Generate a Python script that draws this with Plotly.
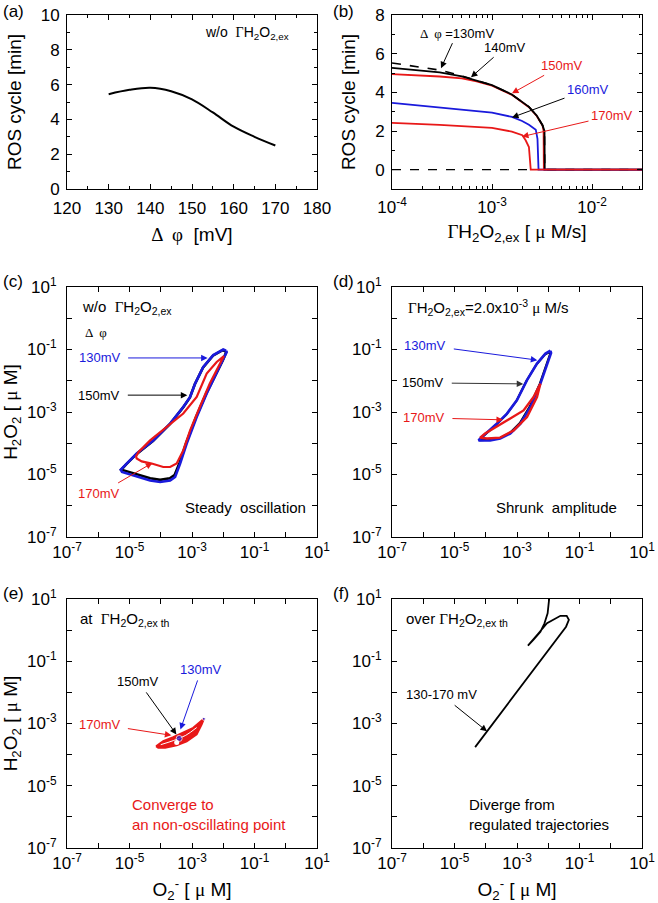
import plotly.graph_objects as go

W, H = 658, 903

# ---------------- data ----------------
# (a) ROS cycle vs membrane potential (no external H2O2)
dphi_mV = [130, 135, 140, 145, 150, 155, 160, 165, 170]
ros_cycle_min = [5.45, 5.70, 5.82, 5.62, 5.15, 4.40, 3.58, 3.00, 2.50]

# (b) ROS cycle vs external H2O2 flux, one series per potential
g130 = [1e-4, 2e-4, 3e-4, 5e-4, 7e-4, 1e-3, 1.58e-3, 2.34e-3, 2.8e-3, 3.2e-3, 3.35e-3, 3.37e-3, 3.2e-2]
r130 = [5.52, 5.30, 5.15, 4.85, 4.62, 4.37, 3.89, 3.25, 2.80, 2.30, 2.00, 0, 0]
g140 = [1e-4, 2e-4, 3e-4, 5e-4, 7e-4, 1e-3, 1.58e-3, 2.34e-3, 2.8e-3, 3.2e-3, 3.35e-3, 3.37e-3, 3.2e-2]
r140 = [5.27, 5.13, 5.03, 4.82, 4.60, 4.37, 3.89, 3.25, 2.80, 2.30, 2.00, 0, 0]
g150 = [1e-4, 2e-4, 3e-4, 5e-4, 7e-4, 1e-3, 1.58e-3, 2.34e-3, 2.8e-3, 3.2e-3, 3.28e-3, 3.30e-3, 3.2e-2]
r150 = [4.94, 4.88, 4.82, 4.72, 4.57, 4.35, 3.87, 3.23, 2.78, 2.28, 2.00, 0, 0]
g160 = [1e-4, 2e-4, 3e-4, 5e-4, 1e-3, 1.58e-3, 2e-3, 2.34e-3, 2.74e-3, 2.85e-3, 2.9e-3, 2.92e-3, 3.2e-2]
r160 = [3.45, 3.30, 3.21, 3.10, 2.95, 2.73, 2.52, 2.32, 2.07, 1.60, 0.80, 0, 0]
g170 = [1e-4, 3e-4, 1e-3, 1.58e-3, 2.01e-3, 2.17e-3, 2.34e-3, 2.40e-3, 2.44e-3, 3.2e-2]
r170 = [2.42, 2.32, 2.16, 1.97, 1.78, 1.52, 1.17, 0.60, 0, 0]
zero_ref_g = [1e-4, 2.44e-3]
zero_ref_r = [0, 0]

# (c) phase loops, log10(O2-) and log10(H2O2), w/o external H2O2
c130_lo2 = [-1.91, -2.00, -2.32, -2.64, -2.90, -3.06, -3.28, -3.70, -4.24, -4.77, -5.09, -5.28, -5.24,
            -4.87, -4.34, -4.02, -3.70, -3.54, -3.38, -3.17, -2.85, -2.53, -2.21, -2.00, -1.89, -1.91]
c130_lh2o2 = [-1.04, -1.00, -1.18, -1.56, -2.09, -2.52, -2.84, -3.37, -3.91, -4.33, -4.65, -4.85, -4.92,
              -5.03, -5.19, -5.24, -5.19, -5.08, -4.65, -4.01, -3.16, -2.41, -1.77, -1.34, -1.08, -1.04]
c150_lo2 = [-1.93, -2.02, -2.33, -2.65, -2.91, -3.07, -3.29, -3.71, -4.25, -4.78, -5.10, -5.26, -5.21,
            -4.86, -4.34, -4.02, -3.71, -3.56, -3.40, -3.19, -2.87, -2.55, -2.23, -2.02, -1.91, -1.93]
c150_lh2o2 = [-1.06, -1.02, -1.20, -1.58, -2.11, -2.54, -2.86, -3.39, -3.93, -4.35, -4.67, -4.84, -4.86,
              -4.96, -5.12, -5.17, -5.12, -5.02, -4.63, -4.00, -3.16, -2.42, -1.79, -1.36, -1.10, -1.06]
c170_lo2 = [-1.98, -2.21, -2.53, -2.85, -3.28, -3.81, -4.34, -4.71, -4.79, -4.77, -4.61, -4.29, -3.92,
            -3.70, -3.49, -3.28, -3.06, -2.75, -2.43, -2.16, -1.98]
c170_lh2o2 = [-1.21, -1.40, -1.77, -2.52, -3.05, -3.48, -3.91, -4.28, -4.42, -4.49, -4.58, -4.65, -4.76,
              -4.76, -4.65, -4.23, -3.59, -2.84, -2.09, -1.56, -1.21]

# (d) phase loops with external H2O2 = 2.0e-3 uM/s
d130_lo2 = [-1.93, -2.09, -2.36, -2.68, -3.00, -3.32, -3.64, -3.96, -4.18, -4.23, -3.86, -3.54, -3.22,
            -2.89, -2.57, -2.25, -2.04, -1.91, -1.93]
d130_lh2o2 = [-1.04, -1.13, -1.45, -1.98, -2.62, -3.05, -3.37, -3.64, -3.85, -3.91, -3.91, -3.85, -3.69,
              -3.37, -2.84, -2.09, -1.45, -1.11, -1.04]
d150_lo2 = [-1.96, -2.11, -2.38, -2.70, -3.02, -3.34, -3.66, -3.98, -4.17, -4.20, -3.86, -3.54, -3.23,
            -2.91, -2.59, -2.27, -2.06, -1.94, -1.96]
d150_lh2o2 = [-1.08, -1.16, -1.48, -2.01, -2.65, -3.08, -3.40, -3.67, -3.86, -3.90, -3.89, -3.83, -3.67,
              -3.35, -2.82, -2.09, -1.47, -1.14, -1.08]
d170_lo2 = [-2.25, -2.47, -2.79, -3.22, -3.64, -4.02, -4.18, -3.96, -3.54, -3.11, -2.68, -2.36, -2.25]
d170_lh2o2 = [-2.09, -2.52, -2.95, -3.21, -3.48, -3.69, -3.82, -3.85, -3.82, -3.59, -3.16, -2.52, -2.09]

# (e) converging trajectories at threshold flux
e_lo2 = [-4.15, -4.08, -3.86, -3.49, -3.17, -2.85, -2.69, -2.62, -2.96, -3.28, -3.60, -3.92, -4.15]
e_lh2o2 = [-3.73, -3.78, -3.78, -3.70, -3.57, -3.35, -3.03, -2.85, -3.14, -3.30, -3.44, -3.57, -3.73]
e_inner_lo2 = [-4.00, -3.60, -3.20, -2.85]
e_inner_lh2o2 = [-3.68, -3.55, -3.38, -3.13]
e_fixed130_lo2, e_fixed130_lh2o2 = [-3.41, -2.62], [-3.48, -2.85]
e_fixed170_lo2, e_fixed170_lh2o2 = [-3.49], [-3.61]

# (f) diverging trajectory above threshold
f_lo2 = [-4.34, -1.43, -1.34, -1.41, -1.61, -1.77, -2.04, -2.31, -2.57, -2.65, -2.47, -2.25, -2.12,
         -2.02, -1.96, -1.94]
f_lh2o2 = [-3.76, 0.11, 0.33, 0.46, 0.46, 0.38, 0.22, -0.10, -0.42, -0.50, -0.31, -0.05, 0.22,
           0.54, 1.00, 1.30]

# tick labels
lin_x_ticks = [120, 130, 140, 150, 160, 170, 180]
lin_y_ticks = [0, 2, 4, 6, 8, 10]
b_y_ticks = [0, 2, 4, 6, 8]
b_x_ticks = [1e-4, 1e-3, 1e-2]
b_x_text = ["10<sup>-4</sup>", "10<sup>-3</sup>", "10<sup>-2</sup>"]
log_major = [1e-7, 1e-5, 1e-3, 1e-1, 1e1]
log_major_text = ["10<sup>-7</sup>", "10<sup>-5</sup>", "10<sup>-3</sup>", "10<sup>-1</sup>", "10<sup>1</sup>"]
log_minor = [1e-6, 1e-4, 1e-2, 1e0]

BLUE = "#1a1adc"
RED = "#e81818"
BLACK = "#000000"
FONT = "Liberation Sans, Arial, sans-serif"
G = '<span style="font-family:Liberation Serif">Γ</span>'
MU = '<span style="font-family:Liberation Serif">μ</span>'
PHI = '<span style="font-family:Liberation Serif">Δ  φ</span>'


def p10(v):
    return [10 ** t for t in v]


fig = go.Figure()


def line(x, y, ax, color, width=2, dash="solid", shape="linear", **kw):
    xa = "x" if ax == 1 else f"x{ax}"
    ya = "y" if ax == 1 else f"y{ax}"
    fig.add_trace(go.Scatter(x=x, y=y, xaxis=xa, yaxis=ya, mode="lines",
                             line=dict(color=color, width=width, dash=dash, shape=shape),
                             showlegend=False, hoverinfo="skip", **kw))


# (a)
line(dphi_mV, ros_cycle_min, 1, BLACK, 2, shape="spline")
# (b)
line(zero_ref_g, zero_ref_r, 2, BLACK, 1.2, dash="dash")
line(g150, r150, 2, RED, 1.8)
line(g140, r140, 2, BLACK, 1.8)
line(g130, r130, 2, BLACK, 1.6, dash="dash")
line(g160, r160, 2, BLUE, 1.8)
line(g170, r170, 2, RED, 1.8)
# (c)
line(p10(c150_lo2), p10(c150_lh2o2), 3, BLACK, 2.6)
line(p10(c130_lo2), p10(c130_lh2o2), 3, BLUE, 2.6)
line(p10(c170_lo2), p10(c170_lh2o2), 3, RED, 2.2)
# (d)
line(p10(d150_lo2), p10(d150_lh2o2), 4, BLACK, 2.0)
line(p10(d130_lo2), p10(d130_lh2o2), 4, BLUE, 2.6)
line(p10(d170_lo2), p10(d170_lh2o2), 4, RED, 2.4)
# (e)
fig.add_trace(go.Scatter(x=p10(e_lo2), y=p10(e_lh2o2), xaxis="x5", yaxis="y5", mode="lines",
                         fill="toself", fillcolor=RED, line=dict(color=RED, width=2),
                         showlegend=False, hoverinfo="skip"))
line(p10(e_inner_lo2), p10(e_inner_lh2o2), 5, "white", 1.0, shape="spline")
fig.add_trace(go.Scatter(x=p10(e_fixed130_lo2), y=p10(e_fixed130_lh2o2), xaxis="x5", yaxis="y5",
                         mode="markers", marker=dict(color=BLUE, size=[6, 3]),
                         showlegend=False, hoverinfo="skip"))
fig.add_trace(go.Scatter(x=p10(e_fixed170_lo2), y=p10(e_fixed170_lh2o2), xaxis="x5", yaxis="y5",
                         mode="markers", marker=dict(color="white", size=5),
                         showlegend=False, hoverinfo="skip"))
# (f)
line(p10(f_lo2), p10(f_lh2o2), 6, BLACK, 1.8)

# ---------------- layout ----------------
COLX = [(67 / W, 317 / W), (392 / W, 642 / W)]
ROWY = [(1 - 189 / H, 1 - 15 / H), (1 - 537 / H, 1 - 287 / H), (1 - 848 / H, 1 - 599 / H)]

base = dict(showline=True, linecolor=BLACK, linewidth=1, mirror="ticks", ticks="inside",
            ticklen=5, tickcolor=BLACK, tickwidth=1, showgrid=False, zeroline=False,
            automargin=False, tickfont=dict(size=17, color=BLACK, family=FONT))
tfont = dict(size=19, color=BLACK, family=FONT)

layout = dict(width=W, height=H, margin=dict(l=0, r=0, t=0, b=0), paper_bgcolor="white",
              plot_bgcolor="white", font=dict(family=FONT, color=BLACK), showlegend=False)

layout["xaxis"] = dict(base, domain=COLX[0], anchor="y", range=[120, 180], tickvals=lin_x_ticks,
                       ticklabelstandoff=4,
                       minor=dict(ticks="inside", ticklen=3, tickcolor=BLACK, dtick=5, tick0=120),
                       title=dict(text=f"{PHI}  [mV]", font=tfont, standoff=10))
layout["yaxis"] = dict(base, domain=ROWY[0], anchor="x", range=[0, 10], tickvals=lin_y_ticks,
                       minor=dict(ticks="inside", ticklen=3, tickcolor=BLACK, dtick=1, tick0=0),
                       ticklabelstandoff=3,
                       title=dict(text="ROS cycle [min]", font=tfont, standoff=14))
b_minor = [k * 10 ** e for e in (-4, -3, -2) for k in range(2, 10) if k * 10 ** e < 3.2e-2]
layout["xaxis2"] = dict(base, domain=COLX[1], anchor="y2", type="log", range=[-4, -1.5],
                        tickvals=b_x_ticks, ticktext=b_x_text, ticklabelstandoff=3,
                        minor=dict(ticks="inside", ticklen=3, tickcolor=BLACK, tickvals=b_minor),
                        title=dict(text=f"{G}H<sub>2</sub>O<sub>2,ex</sub> [ {MU} M/s]", font=tfont,
                                   standoff=8))
layout["yaxis2"] = dict(base, domain=ROWY[0], anchor="x2", range=[-1, 8], tickvals=b_y_ticks,
                        minor=dict(ticks="inside", ticklen=3, tickcolor=BLACK, dtick=1, tick0=-1),
                        ticklabelstandoff=3,
                        title=dict(text="ROS cycle [min]", font=tfont, standoff=14))

o2_title = f"O<sub>2</sub><sup>-</sup> [ {MU} M]"
h2o2_title = f"H<sub>2</sub>O<sub>2</sub> [ {MU} M]"
for i, (col, row) in zip(range(3, 7), [(0, 1), (1, 1), (0, 2), (1, 2)]):
    xa = dict(base, domain=COLX[col], anchor=f"y{i}", type="log", range=[-7, 1],
              tickvals=log_major, ticktext=log_major_text,
              minor=dict(ticks="inside", ticklen=5, tickcolor=BLACK, tickvals=log_minor))
    ya = dict(base, domain=ROWY[row], anchor=f"x{i}", type="log", range=[-7, 1],
              tickvals=log_major, ticktext=log_major_text, ticklabelstandoff=6,
              minor=dict(ticks="inside", ticklen=5, tickcolor=BLACK, tickvals=log_minor))
    if row == 2:
        xa["title"] = dict(text=o2_title, font=tfont, standoff=12)
    if col == 0:
        ya["title"] = dict(text=h2o2_title, font=tfont, standoff=10)
    layout[f"xaxis{i}"] = xa
    layout[f"yaxis{i}"] = ya

fig.update_layout(**layout)

ann = []


def note(ax, x, y, s, color=BLACK, size=13, xanchor="left", align="left"):
    ann.append(dict(xref="x" if ax == 1 else f"x{ax}", yref="y" if ax == 1 else f"y{ax}",
                    x=x, y=y, text=s, showarrow=False, xanchor=xanchor, yanchor="middle",
                    align=align, font=dict(size=size, color=color, family=FONT)))


def label_arrow(ax, x, y, dx, dy, s, color=BLACK, acolor=None, size=13, pad=5):
    """Label placed at offset (dx, dy) px from the arrow tip at data point (x, y)."""
    ann.append(dict(xref="x" if ax == 1 else f"x{ax}", yref="y" if ax == 1 else f"y{ax}",
                    x=x, y=y, ax=dx, ay=dy, text=s, showarrow=True, arrowhead=2,
                    arrowsize=1.3, arrowwidth=1, arrowcolor=acolor or color, standoff=0,
                    borderpad=pad, font=dict(size=size, color=color, family=FONT)))


# panel labels
for lab, px, py in [("(a)", 1, 12), ("(b)", 331, 12), ("(c)", 1, 281), ("(d)", 331, 281),
                    ("(e)", 1, 593), ("(f)", 331, 593)]:
    ann.append(dict(xref="paper", yref="paper", x=px / W, y=1 - py / H, text=lab, showarrow=False,
                    xanchor="left", yanchor="middle", font=dict(size=17, color=BLACK, family=FONT)))

# (a)
note(1, 152.6, 8.97, f"w/o  {G}H<sub>2</sub>O<sub>2,ex</sub>", size=14)
# (b)
label_arrow(2, -3.51, 5.25, 16, -35, f"{PHI} =130mV", pad=2)
label_arrow(2, -3.21, 4.78, 34, -30, "140mV", pad=2)
label_arrow(2, -2.80, 3.95, 50, -28, "150mV", RED, pad=2)
label_arrow(2, -2.80, 2.70, 76, -28, "160mV", BLUE, BLACK, pad=2)
label_arrow(2, -2.70, 1.71, 90, -21, "170mV", RED, pad=2)
# (c)
note(3, -6.57, 0.33, f"w/o  {G}H<sub>2</sub>O<sub>2,ex</sub>", size=15)
note(3, -6.50, -0.44, PHI, size=13)
label_arrow(3, -2.50, -1.27, -108, 0, "130mV", BLUE, pad=7)
label_arrow(3, -3.15, -2.46, -88, 0, "150mV", pad=7)
label_arrow(3, -4.27, -4.63, -53, 31, "170mV", RED, pad=3)
note(3, 0.72, -6.04, "Steady  oscillation", size=15, xanchor="right")
# (d)
note(4, -6.55, 0.36, f"{G}H<sub>2</sub>O<sub>2,ex</sub>=2.0x10<sup>-3</sup> {MU} M/s", size=15)
label_arrow(4, -2.35, -1.34, -112, -15, "130mV", BLUE, pad=7)
label_arrow(4, -2.80, -2.10, -100, -1, "150mV", BLACK, "#333333", pad=7)
label_arrow(4, -3.45, -3.25, -79, -2, "170mV", RED, pad=7)
note(4, 0.26, -6.04, "Shrunk  amplitude", size=15, xanchor="right")
# (e)
note(5, -6.64, 0.33, f"at  {G}H<sub>2</sub>O<sub>2,ex th</sub>", size=15)
label_arrow(5, -3.37, -3.19, 21, -60, "130mV", BLUE, pad=3)
label_arrow(5, -3.50, -3.35, -38, -53, "150mV", pad=3)
label_arrow(5, -3.66, -3.38, -71, -11, "170mV", RED, pad=6)
note(5, -4.97, -5.91, "Converge to<br>an non-oscillating point", color=RED, size=15)
# (f)
note(6, -6.62, 0.33, f"over {G}H<sub>2</sub>O<sub>2,ex th</sub>", size=15)
label_arrow(6, -3.96, -3.25, -46, -37, "130-170 mV", pad=3)
note(6, -4.60, -5.91, "Diverge from<br>regulated trajectories", size=15)

fig.update_layout(annotations=ann)
fig.write_html("out.html", config={"displayModeBar": False},
               post_script="document.body.style.margin='0';document.body.style.overflow='hidden';")
